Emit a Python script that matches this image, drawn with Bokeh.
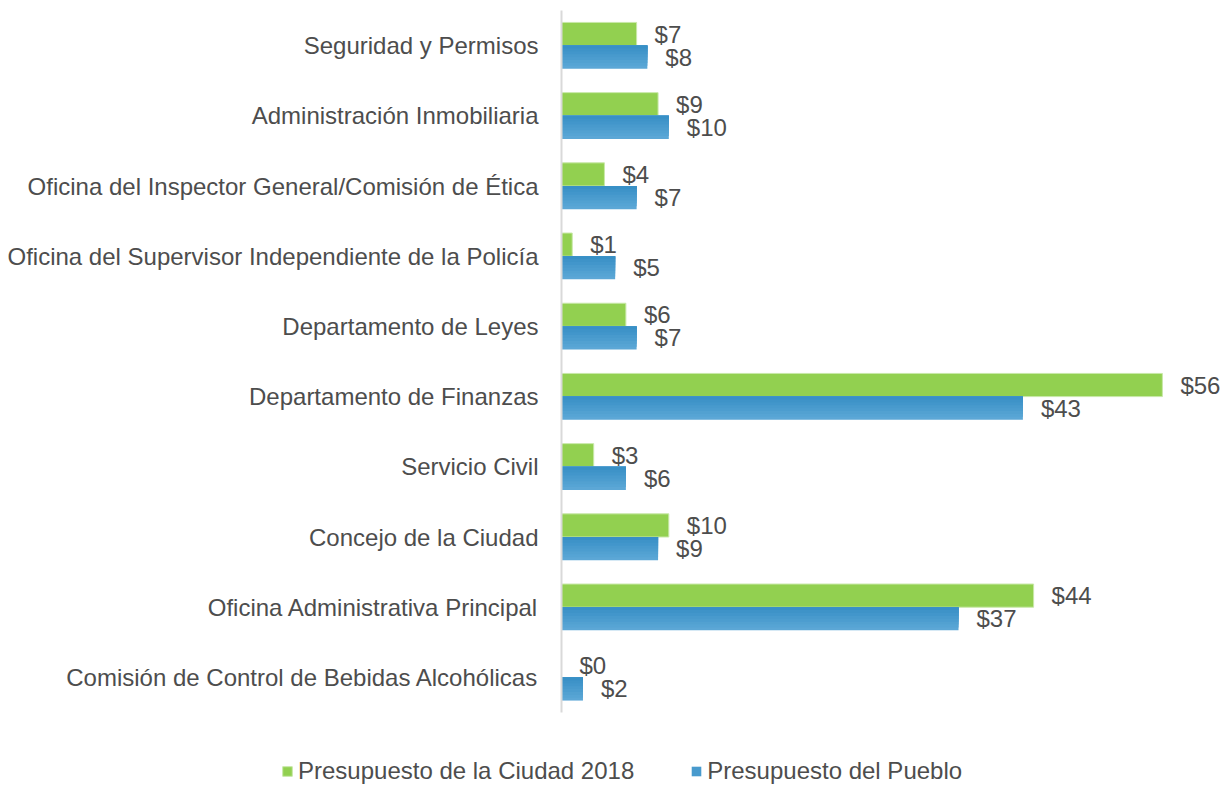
from bokeh.plotting import figure
from bokeh.models import ColumnDataSource, Legend, LegendItem, Range1d, LinearAxis, FixedTicker
from bokeh.transform import dodge
from bokeh.core.properties import value
from bokeh.embed import file_html
from bokeh.resources import INLINE

categories = [
    "Seguridad y Permisos",
    "Administración Inmobiliaria",
    "Oficina del Inspector General/Comisión de Ética",
    "Oficina del Supervisor Independiente de la Policía",
    "Departamento de Leyes",
    "Departamento de Finanzas",
    "Servicio Civil",
    "Concejo de la Ciudad",
    "Oficina Administrativa Principal",
    "Comisión de Control de Bebidas Alcohólicas",
]
ciudad_2018 = [7, 9, 4, 1, 6, 56, 3, 10, 44, 0]
pueblo = [8, 10, 7, 5, 7, 43, 6, 9, 37, 2]
series_names = ["Presupuesto de la Ciudad 2018", "Presupuesto del Pueblo"]

FONT = "Liberation Sans"
TEXT_COLOR = "#4d4d4d"
GREEN = "#92d050"
FS = "24px"

N = len(categories)
src = ColumnDataSource(dict(
    cat=categories,
    pos=[N - 1 - i for i in range(N)],
    zero=[0] * N,
    ciudad=ciudad_2018,
    pueblo=pueblo,
    ciudad_lbl=[f"${v}" for v in ciudad_2018],
    pueblo_lbl=[f"${v}" for v in pueblo],
))

W, H = 1229, 784
PX_PER_CAT = 70.2
PX_PER_USD = 10.73
AXIS_PX = 561
TOP_PX = 10
y_end = (N - 0.5) + TOP_PX / PX_PER_CAT
y_start = y_end - H / PX_PER_CAT

p = figure(
    width=W, height=H,
    x_range=Range1d(-AXIS_PX / PX_PER_USD, (W - AXIS_PX) / PX_PER_USD),
    y_range=Range1d(y_start, y_end),
    x_axis_location=None, y_axis_location=None,
    output_backend="svg", toolbar_location=None,
    min_border_left=0, min_border_right=0, min_border_top=0, min_border_bottom=0,
)
p.outline_line_color = None
p.xgrid.visible = False
p.ygrid.visible = False

# vertical category axis line at x = 0, limited to the category band
ax = LinearAxis(fixed_location=0, bounds=(-0.5, N - 0.5),
                ticker=FixedTicker(ticks=[]),
                axis_line_color="#d9d9d9", axis_line_width=2,
                major_tick_line_color=None, minor_tick_line_color=None,
                major_label_text_font_size="0px")
p.add_layout(ax, "left")

# category labels
p.text(x="zero", y="pos", text="cat", source=src, x_offset=-23,
       text_align="right", text_baseline="middle",
       text_font=value(FONT), text_font_size=FS, text_color=TEXT_COLOR)

bh = 0.33
off = 0.165
g = p.hbar(y=dodge("pos", off), right="ciudad", left=0, height=bh,
           source=src, fill_color=GREEN, line_color="#c8e8a8", line_width=1)

# blue bars: nested layers anchored at the bar top to imitate a vertical gradient
n = 8
top_c = (0x5e, 0xa9, 0xd7)
bot_c = (0x36, 0x8e, 0xc5)
b = None
for k in range(n):
    frac = (n - k) / n
    t = 1 - frac + 0.5 / n
    col = "#%02x%02x%02x" % tuple(int(round(bot_c[j] + (top_c[j] - bot_c[j]) * (1 - t))) for j in range(3))
    h = bh * frac
    yoff = -off + bh / 2 - h / 2
    r = p.hbar(y=dodge("pos", yoff), right="pueblo", left=0,
               height=h, source=src, fill_color=col, line_color=None)
    if k == n // 2:
        b = r

p.text(x="ciudad", y=dodge("pos", off), text="ciudad_lbl", source=src,
       x_offset=18, text_align="left", text_baseline="middle",
       text_font=value(FONT), text_font_size=FS, text_color=TEXT_COLOR)
p.text(x="pueblo", y=dodge("pos", -off), text="pueblo_lbl", source=src,
       x_offset=18, text_align="left", text_baseline="middle",
       text_font=value(FONT), text_font_size=FS, text_color=TEXT_COLOR)

legend = Legend(
    items=[LegendItem(label=series_names[0], renderers=[g]),
           LegendItem(label=series_names[1], renderers=[b])],
    orientation="horizontal", location=(281, -1),
    label_text_font=FONT, label_text_font_size=FS, label_text_color=TEXT_COLOR,
    glyph_width=12, glyph_height=12, spacing=56, label_standoff=5,
    border_line_color=None, background_fill_alpha=0, margin=0, padding=0,
)
p.add_layout(legend, "center")

open("out.html", "w").write(file_html(p, INLINE))
